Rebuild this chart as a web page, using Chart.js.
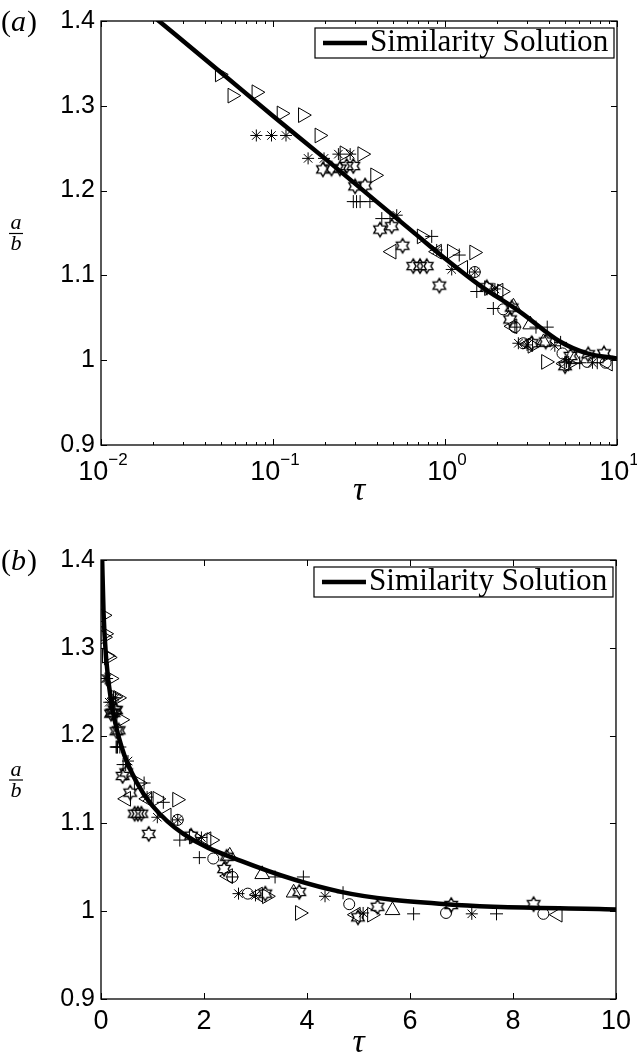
<!DOCTYPE html>
<html lang="en">

<head>
    <meta charset="utf-8">
    <title>a/b against tau</title>
    <script src="https://cdn.jsdelivr.net/npm/chart.js@4.4.0/dist/chart.umd.min.js"></script>
    <style>
        body {
            margin: 0;
            background-color: #fff;
        }

        .panel {
            position: absolute;
            left: 0;
            width: 637px;
        }

        #panelA {
            top: 0;
            height: 530px;
        }

        #panelB {
            top: 530px;
            height: 529px;
        }
    </style>
</head>

<body>
    <div class="panel" id="panelA"><canvas id="chartA" width="637" height="530"></canvas></div>
    <div class="panel" id="panelB"><canvas id="chartB" width="637" height="529"></canvas></div>

<script>
    // similarity solution
    const curveTau = [0.02, 0.05, 0.1, 0.2, 0.4, 0.7, 1.0, 1.6, 2.73, 4.66, 6.7, 10];
    const curveVal = [1.406, 1.339, 1.288, 1.238, 1.187, 1.146, 1.120, 1.088, 1.057, 1.022, 1.008, 1.002];

    // measurements, one pair of arrays per marker
    const triRightTau = [0.049, 0.058, 0.080, 0.112, 0.149, 0.186, 0.26, 0.33, 0.392, 0.731, 1.094, 1.476, 1.80, 2.14, 3.22, 3.86, 5.26];
    const triRightVal = [1.337, 1.312, 1.316, 1.291, 1.289, 1.265, 1.244, 1.243, 1.218, 1.146, 1.128, 1.127, 1.085, 1.081, 1.017, 0.998, 0.996];

    const starTau = [0.080, 0.098, 0.119, 0.160, 0.198, 0.240, 0.281, 0.524, 0.895, 1.094, 1.49, 1.95, 2.67, 3.0, 4.35, 5.09, 7.20];
    const starVal = [1.265, 1.265, 1.265, 1.238, 1.238, 1.243, 1.243, 1.171, 1.130, 1.107, 1.104, 1.084, 1.020, 1.018, 1.017, 0.998, 0.997];

    const hexTau = [0.195, 0.219, 0.245, 0.268, 0.293, 0.300, 0.343, 0.419, 0.490, 0.567, 0.654, 0.716, 0.783, 0.927, 1.75, 2.44, 2.39, 3.19, 3.85, 4.99, 5.37, 6.8, 8.4];
    const hexVal = [1.225, 1.226, 1.226, 1.229, 1.229, 1.205, 1.206, 1.154, 1.158, 1.135, 1.111, 1.111, 1.111, 1.088, 1.086, 1.062, 1.048, 1.020, 1.022, 0.993, 1.005, 1.007, 1.008];

    const plusTau = [0.293, 0.306, 0.321, 0.366, 0.429, 0.479, 0.837, 1.21, 1.53, 1.91, 2.55, 3.38, 3.93, 4.70, 6.07, 7.68];
    const plusVal = [1.187, 1.187, 1.187, 1.187, 1.167, 1.167, 1.146, 1.124, 1.081, 1.061, 1.039, 1.039, 1.039, 1.021, 0.997, 0.997];

    const circleTau = [1.49, 2.18, 2.55, 2.85, 4.82, 6.70, 8.59];
    const circleVal = [1.104, 1.060, 1.039, 1.020, 1.008, 0.998, 0.997];

    const triLeftTau = [0.49, 0.90, 1.277, 2.05, 2.47, 3.05, 4.95, 8.87];
    const triLeftVal = [1.128, 1.128, 1.109, 1.082, 1.040, 1.019, 0.996, 0.996];

    const triUpTau = [2.50, 3.13, 3.74, 5.66];
    const triUpVal = [1.063, 1.042, 1.021, 1.001];

    const logTicks = [0.01, 0.1, 1, 10];
    const logTickExps = ['\u22122', '\u22121', '0', '1'];
    const linTicks = [0, 2, 4, 6, 8, 10];
    const yTicks = [0.9, 1.0, 1.1, 1.2, 1.3, 1.4];
    const yTickLabels = ['0.9', '1', '1.1', '1.2', '1.3', '1.4'];
    const legendText = 'Similarity Solution';

    const sansFont = '"Liberation Sans", Arial, sans-serif';

    // MATLAB-style hexagram marker
    let makeHexagram = () => {
        let c = document.createElement('canvas');
        c.width = 18;
        c.height = 18;
        let g = c.getContext('2d');
        let R = 7.2, r = R / Math.sqrt(3);
        g.beginPath();
        for (let i = 0; i < 12; i++) {
            let ang = -Math.PI / 2 + i * Math.PI / 6;
            let rr = i % 2 === 0 ? R : r;
            let px = 9 + rr * Math.cos(ang), py = 9 + rr * Math.sin(ang);
            if (i === 0) g.moveTo(px, py); else g.lineTo(px, py);
        }
        g.closePath();
        g.strokeStyle = '#000';
        g.lineWidth = 1.4;
        g.stroke();
        return c;
    };
    const hexImg = makeHexagram();

    let pts = (xs, ys) => xs.map((t, i) => ({ x: t, y: ys[i] }));

    let markerSet = (tau, val, style, radius, rotation) => ({
        data: pts(tau, val),
        showLine: false,
        pointStyle: style,
        pointRadius: radius,
        pointRotation: rotation || 0,
        pointBorderColor: '#000',
        pointBackgroundColor: 'rgba(0,0,0,0)',
        pointBorderWidth: 1,
        order: 2
    });

    let buildDatasets = () => [
        markerSet(triRightTau, triRightVal, 'triangle', 8.5, 90),
        markerSet(triLeftTau, triLeftVal, 'triangle', 8.5, -90),
        markerSet(triUpTau, triUpVal, 'triangle', 8.5, 0),
        markerSet(starTau, starVal, 'star', 6),
        markerSet(hexTau, hexVal, hexImg, 7),
        markerSet(plusTau, plusVal, 'cross', 6.5),
        markerSet(circleTau, circleVal, 'circle', 5.5),
        {
            label: legendText,
            data: pts(curveTau, curveVal),
            showLine: true,
            borderColor: '#000',
            borderWidth: 4.5,
            pointRadius: 0,
            cubicInterpolationMode: 'monotone',
            clip: 0,
            order: 1
        }
    ];

    // box, inward ticks, power-of-ten labels, legend, panel letter and a/b label
    const decorations = {
        id: 'decorations',
        afterDraw(chart, args, opts) {
            const { ctx, chartArea: a, scales: { x, y } } = chart;
            ctx.save();
            ctx.strokeStyle = '#000';
            ctx.lineWidth = 1.3;
            ctx.strokeRect(a.left, a.top, a.right - a.left, a.bottom - a.top);

            let xTick = (v, len) => {
                let px = Math.round(x.getPixelForValue(v)) + 0.5;
                ctx.beginPath();
                ctx.moveTo(px, a.bottom); ctx.lineTo(px, a.bottom - len);
                ctx.moveTo(px, a.top); ctx.lineTo(px, a.top + len);
                ctx.stroke();
            };
            let yTick = (v, len) => {
                let py = Math.round(y.getPixelForValue(v)) + 0.5;
                ctx.beginPath();
                ctx.moveTo(a.left, py); ctx.lineTo(a.left + len, py);
                ctx.moveTo(a.right, py); ctx.lineTo(a.right - len, py);
                ctx.stroke();
            };
            ctx.lineWidth = 1;
            opts.xMajor.forEach(v => xTick(v, 6));
            if (opts.log) {
                for (let d = 0.01; d < 10; d *= 10) {
                    for (let m = 2; m <= 9; m++) xTick(d * m, 3);
                }
            }
            yTicks.forEach(v => yTick(v, 6));

            ctx.fillStyle = '#000';

            // 10^k labels on the log axis
            if (opts.log) {
                logTicks.forEach((v, i) => {
                    let px = x.getPixelForValue(v);
                    ctx.font = '27px ' + sansFont;
                    let w1 = ctx.measureText('10').width;
                    ctx.font = '17px ' + sansFont;
                    let w2 = ctx.measureText(logTickExps[i]).width;
                    let sx = px - (w1 + w2) / 2 + 2;
                    ctx.textAlign = 'left';
                    ctx.textBaseline = 'alphabetic';
                    ctx.font = '27px ' + sansFont;
                    ctx.fillText('10', sx, a.bottom + 35);
                    ctx.font = '17px ' + sansFont;
                    ctx.fillText(logTickExps[i], sx + w1, a.bottom + 20);
                });
            }

            // legend
            const lx = a.right - 302, ly = a.top + 7, lw = 299, lh = 30;
            ctx.fillStyle = '#fff';
            ctx.fillRect(lx, ly, lw, lh);
            ctx.lineWidth = 1.2;
            ctx.strokeRect(lx, ly, lw, lh);
            ctx.lineWidth = 4.5;
            ctx.beginPath();
            ctx.moveTo(lx + 8, ly + lh / 2);
            ctx.lineTo(lx + 52, ly + lh / 2);
            ctx.stroke();
            ctx.fillStyle = '#000';
            ctx.font = '1px "Liberation Serif"';
            let size = 238 / ctx.measureText(legendText).width;
            ctx.font = size.toFixed(1) + 'px "Liberation Serif"';
            ctx.textBaseline = 'alphabetic';
            ctx.textAlign = 'left';
            ctx.fillText(legendText, lx + 55, ly + lh / 2 + 8);

            // panel letter
            ctx.font = '30px "Liberation Serif"';
            ctx.textBaseline = 'middle';
            let tx = 1, ty = a.top + 2;
            ctx.fillText('(', tx, ty);
            tx += ctx.measureText('(').width;
            ctx.font = 'italic 30px "Liberation Serif"';
            ctx.fillText(opts.letter, tx, ty);
            tx += ctx.measureText(opts.letter).width + 1;
            ctx.font = '30px "Liberation Serif"';
            ctx.fillText(')', tx, ty);

            // y label: the fraction a/b
            let cy = (a.top + a.bottom) / 2;
            ctx.font = 'italic 22px "Liberation Serif"';
            ctx.textAlign = 'center';
            ctx.textBaseline = 'alphabetic';
            ctx.fillText('a', 16, cy - 4);
            ctx.fillText('b', 16, cy + 17);
            ctx.lineWidth = 1.2;
            ctx.beginPath();
            ctx.moveTo(9, cy + 0.5); ctx.lineTo(23, cy + 0.5);
            ctx.stroke();
            ctx.restore();
        }
    };

    let makeChart = (id, log, letter, padTop, xAxisH, titlePad) => {
        let xTickVals = log ? logTicks : linTicks;
        return new Chart(document.getElementById(id), {
            type: 'scatter',
            data: { datasets: buildDatasets() },
            options: {
                responsive: false,
                animation: false,
                events: [],
                layout: { padding: { top: padTop, right: 20, left: 0, bottom: 0 } },
                plugins: {
                    legend: { display: false },
                    tooltip: { enabled: false },
                    decorations: { log: log, letter: letter, xMajor: xTickVals }
                },
                scales: {
                    x: {
                        type: log ? 'logarithmic' : 'linear',
                        min: log ? 0.01 : 0,
                        max: 10,
                        grid: { display: false, drawTicks: false },
                        border: { display: false },
                        afterBuildTicks: s => { s.ticks = xTickVals.map(v => ({ value: v })); },
                        afterFit: s => { s.height = xAxisH; },
                        ticks: {
                            display: !log,
                            autoSkip: false,
                            maxRotation: 0,
                            padding: 6,
                            color: '#000',
                            font: { family: sansFont, size: 27 },
                            callback: (v, i) => String(xTickVals[i])
                        },
                        title: {
                            display: true,
                            text: '\u03C4',
                            color: '#000',
                            font: { family: '"Liberation Serif", serif', style: 'italic', size: 34, lineHeight: 1 },
                            padding: { top: 0, bottom: titlePad }
                        }
                    },
                    y: {
                        min: 0.9,
                        max: 1.4,
                        grid: { display: false, drawTicks: false },
                        border: { display: false },
                        afterBuildTicks: s => { s.ticks = yTicks.map(v => ({ value: v })); },
                        afterFit: s => { s.width = 101; },
                        ticks: {
                            padding: 6,
                            color: '#000',
                            font: { family: sansFont, size: 25 },
                            callback: (v, i) => yTickLabels[i]
                        }
                    }
                }
            },
            plugins: [decorations]
        });
    };

    makeChart('chartA', true, 'a', 14, 85, 22);
    makeChart('chartB', false, 'b', 30, 60, -1);
</script>
</body>

</html>
